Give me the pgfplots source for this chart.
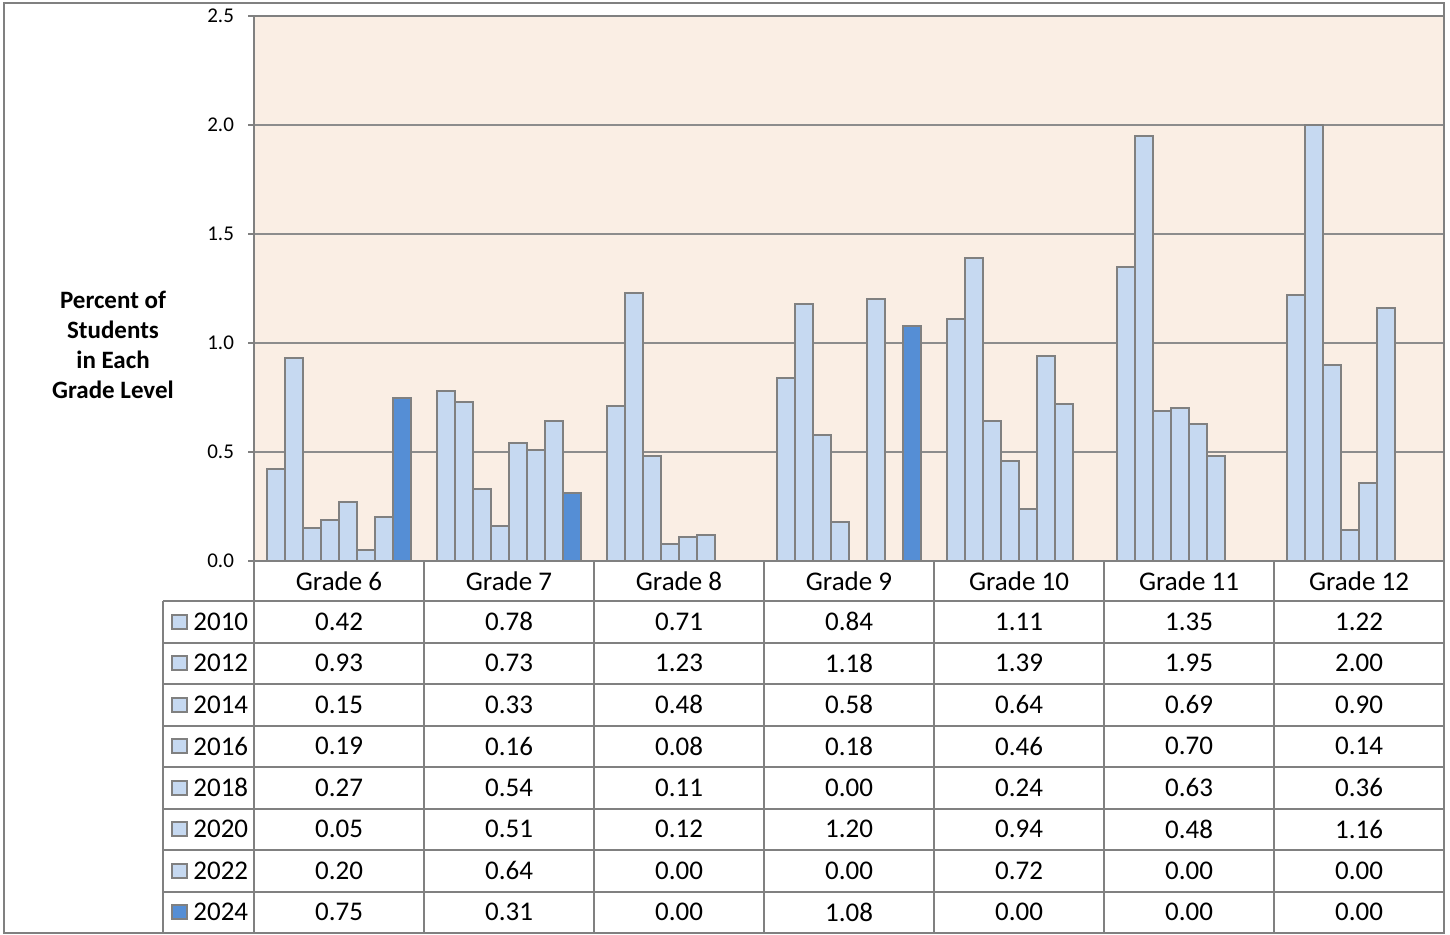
\documentclass[border=0pt]{standalone}
\usepackage{fontspec}
\setmainfont{Carlito}
\usepackage{pgfplots}
\pgfplotsset{compat=1.18}
\usepackage{pgfplotstable}

\definecolor{bg}{RGB}{250,238,228}
\definecolor{lb}{RGB}{198,217,241}
\definecolor{db}{RGB}{85,142,213}
\definecolor{bd}{RGB}{128,128,128}
\definecolor{gl}{RGB}{140,140,140}

\pgfplotstableread{
x y2010 y2012 y2014 y2016 y2018 y2020 y2022 y2024
0 0.42 0.93 0.15 0.19 0.27 0.05 0.20 0.75
1 0.78 0.73 0.33 0.16 0.54 0.51 0.64 0.31
2 0.71 1.23 0.48 0.08 0.11 0.12 0.00 0.00
3 0.84 1.18 0.58 0.18 0.00 1.20 0.00 1.08
4 1.11 1.39 0.64 0.46 0.24 0.94 0.72 0.00
5 1.35 1.95 0.69 0.70 0.63 0.48 0.00 0.00
6 1.22 2.00 0.90 0.14 0.36 1.16 0.00 0.00
}\datatable

\begin{document}
\begin{tikzpicture}
\begin{scope}[x=0.5pt,y=-0.5pt]
\useasboundingbox (0,0) rectangle (1450,935);
\end{scope}
\begin{axis}[
  at={(127pt,-280.5pt)}, anchor=south west,
  scale only axis, width=595pt, height=272.5pt,
  xmin=-0.5, xmax=6.5, ymin=0, ymax=2.5,
  ytick={0,0.5,1,1.5,2,2.5},
  xtick=data,
  xticklabels={Grade 6,Grade 7,Grade 8,Grade 9,Grade 10,Grade 11,Grade 12},
  x tick style={draw=none},
  xticklabel style={anchor=center, yshift=-7pt, font=\fontsize{13.5}{16}\selectfont},
  y tick style={bd, line width=1pt},
  major tick length=3pt,
  tick align=outside,
  ytick pos=left,
  /pgf/number format/fixed,
  /pgf/number format/fixed zerofill,
  /pgf/number format/precision=1,
  /pgf/number format/assume math mode=true,
  yticklabel style={font=\fontsize{10.5}{12}\selectfont, xshift=-3.5pt},
  axis background/.style={fill=bg},
  ymajorgrids,
  grid style={gl, line width=1pt},
  axis line style={bd, line width=1pt},
  ybar=0pt, bar width=0.1054,
  every axis plot/.append style={draw=bd, line width=1pt},
  clip=false,
]
\addplot[fill=lb] table[x=x,y=y2010] {\datatable};
\addplot[fill=lb] table[x=x,y=y2012] {\datatable};
\addplot[fill=lb] table[x=x,y=y2014] {\datatable};
\addplot[fill=lb] table[x=x,y=y2016] {\datatable};
\addplot[fill=lb] table[x=x,y=y2018] {\datatable};
\addplot[fill=lb] table[x=x,y=y2020] {\datatable};
\addplot[fill=lb] table[x=x,y=y2022] {\datatable};
\addplot[fill=db] table[x=x,y=y2024] {\datatable};
\end{axis}
\begin{scope}[x=0.5pt,y=-0.5pt]
% y label
\node[font=\fontsize{12.5}{15}\selectfont\bfseries, align=center] at (113,345) {Percent of\\Students\\in Each\\Grade Level};
% table grid
\begin{scope}[draw=bd, line width=1pt]
\foreach \k in {0,...,8} {
  \draw (163,601+41.5*\k) -- (1444,601+41.5*\k);
}
\foreach \k in {0,...,6} {
  \draw (254+170*\k,561) -- (254+170*\k,933);
}
\draw (163,601) -- (163,933);
\draw (4,3) rectangle (1444,933);
\end{scope}
% table contents
\foreach \yr/\vals [count=\i from 0] in {
  2010/{0.42,0.78,0.71,0.84,1.11,1.35,1.22},
  2012/{0.93,0.73,1.23,1.18,1.39,1.95,2.00},
  2014/{0.15,0.33,0.48,0.58,0.64,0.69,0.90},
  2016/{0.19,0.16,0.08,0.18,0.46,0.70,0.14},
  2018/{0.27,0.54,0.11,0.00,0.24,0.63,0.36},
  2020/{0.05,0.51,0.12,1.20,0.94,0.48,1.16},
  2022/{0.20,0.64,0.00,0.00,0.72,0.00,0.00},
  2024/{0.75,0.31,0.00,1.08,0.00,0.00,0.00}} {
  \pgfmathsetmacro{\cy}{621.75+41.5*\i}
  \ifnum\i=7
    \filldraw[fill=db, draw=bd, line width=0.8pt] (172,\cy-7) rectangle (187,\cy+7);
  \else
    \filldraw[fill=lb, draw=bd, line width=0.8pt] (172,\cy-7) rectangle (187,\cy+7);
  \fi
  \node[anchor=west, inner sep=0pt, font=\fontsize{13.5}{16}\selectfont] at (193,\cy) {\yr};
  \foreach \v [count=\j from 0] in \vals {
    \node[inner sep=0pt, font=\fontsize{13.5}{16}\selectfont] at (339+170*\j,\cy) {\v};
  }
}
\end{scope}
\end{tikzpicture}
\end{document}
